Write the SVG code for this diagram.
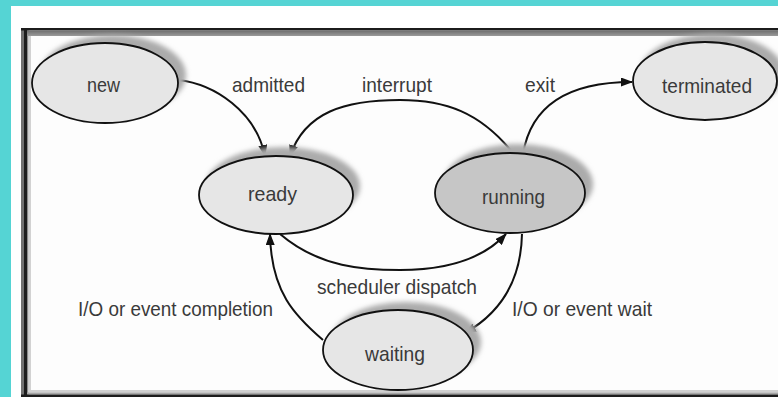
<svg xmlns="http://www.w3.org/2000/svg" width="778" height="397" viewBox="0 0 778 397">
  <style>
    .node { fill: #e6e6e6; stroke: #111; stroke-width: 1.8; }
    .node.dark { fill: #c6c6c6; }
    .shadow { fill: #ababab; filter: url(#blur); }
    .lbl { font-family: "Liberation Sans", Arial, sans-serif; font-size: 21px; fill: #3a3a3a; text-anchor: middle; }
    .edge { fill: none; stroke: #111; stroke-width: 2; marker-end: url(#arrow); }
  </style>
  <defs>
    <filter id="blur" x="-20%" y="-30%" width="140%" height="160%">
      <feGaussianBlur stdDeviation="2.5"/>
    </filter>
    <marker id="arrow" markerUnits="userSpaceOnUse" markerWidth="12" markerHeight="9" refX="11" refY="4.5" orient="auto">
      <path d="M0,0 L12,4.5 L0,9 z" fill="#111"/>
    </marker>
    <linearGradient id="topband" x1="0" y1="0" x2="0" y2="1">
      <stop offset="0" stop-color="#6e6e6e"/>
      <stop offset="1" stop-color="#9a9a9a"/>
    </linearGradient>
  </defs>

  <!-- background -->
  <rect x="0" y="0" width="778" height="397" fill="#55d4d4"/>
  <rect x="11" y="6" width="767" height="391" fill="#ffffff"/>

  <!-- frame -->
  <g id="frame">
    <rect x="21" y="28" width="757" height="369" fill="#fdfdfd"/>
    <rect x="21" y="28" width="3" height="369" fill="#707070"/>
    <rect x="24" y="28" width="3" height="369" fill="#1c1c1c"/>
    <rect x="27" y="30" width="1.5" height="365" fill="#8a8a8a"/>
    <rect x="28.5" y="36" width="2.5" height="354" fill="#d2d2d2"/>
    <rect x="21" y="28" width="757" height="2.5" fill="#1c1c1c"/>
    <rect x="27" y="30.5" width="751" height="5.5" fill="url(#topband)"/>
    <rect x="28" y="390" width="750" height="2.5" fill="#d0d0d0"/>
    <rect x="27" y="392.5" width="751" height="2" fill="#a6a6a6"/>
    <rect x="21" y="394.5" width="757" height="2.5" fill="#1c1c1c"/>
  </g>

  <!-- connectors -->
  <g id="connectors">
    <path class="edge" d="M178,80 C215,84 256,112 265,156"/>
    <path class="edge" d="M513,153 C480,112 445,100 400,100 C345,100 305,112 290,156"/>
    <path class="edge" d="M523,154 C530,112 560,82 632,82"/>
    <path class="edge" d="M280,234 C320,268 365,270 400,270 C445,270 482,260 506,234"/>
    <path class="edge" d="M522,234 C521,280 502,312 465,333"/>
    <path class="edge" d="M323,340 C295,316 271,292 270,234"/>
  </g>

  <!-- nodes -->
  <g id="node-new">
    <ellipse class="shadow" cx="113" cy="75" rx="73" ry="40"/>
    <ellipse class="node" cx="105" cy="83" rx="73" ry="40"/>
    <text class="lbl" x="103.5" y="92" textLength="33" lengthAdjust="spacingAndGlyphs">new</text>
  </g>
  <g id="node-ready">
    <ellipse class="shadow" cx="283" cy="186" rx="77" ry="39"/>
    <ellipse class="node" cx="276" cy="195" rx="77" ry="39"/>
    <text class="lbl" x="272.5" y="201" textLength="49" lengthAdjust="spacingAndGlyphs">ready</text>
  </g>
  <g id="node-running">
    <ellipse class="shadow" cx="518" cy="184" rx="75" ry="40"/>
    <ellipse class="node dark" cx="510" cy="193" rx="75" ry="40"/>
    <text class="lbl" x="513.5" y="204" textLength="63" lengthAdjust="spacingAndGlyphs">running</text>
  </g>
  <g id="node-terminated">
    <ellipse class="shadow" cx="712" cy="73" rx="72" ry="39"/>
    <ellipse class="node" cx="705" cy="81" rx="72" ry="39"/>
    <text class="lbl" x="707" y="93" textLength="90" lengthAdjust="spacingAndGlyphs">terminated</text>
  </g>
  <g id="node-waiting">
    <ellipse class="shadow" cx="406" cy="342" rx="75" ry="40"/>
    <ellipse class="node" cx="398" cy="350" rx="75" ry="40"/>
    <text class="lbl" x="395" y="361" textLength="60" lengthAdjust="spacingAndGlyphs">waiting</text>
  </g>

  <!-- edge labels -->
  <g id="labels">
    <text class="lbl" x="268.5" y="92" textLength="73" lengthAdjust="spacingAndGlyphs">admitted</text>
    <text class="lbl" x="397" y="92" textLength="70" lengthAdjust="spacingAndGlyphs">interrupt</text>
    <text class="lbl" x="540" y="92" textLength="30" lengthAdjust="spacingAndGlyphs">exit</text>
    <text class="lbl" x="397" y="294" textLength="160" lengthAdjust="spacingAndGlyphs">scheduler dispatch</text>
    <text class="lbl" x="175.5" y="316" textLength="195" lengthAdjust="spacingAndGlyphs">I/O or event completion</text>
    <text class="lbl" x="582" y="316" textLength="140" lengthAdjust="spacingAndGlyphs">I/O or event wait</text>
  </g>
</svg>
